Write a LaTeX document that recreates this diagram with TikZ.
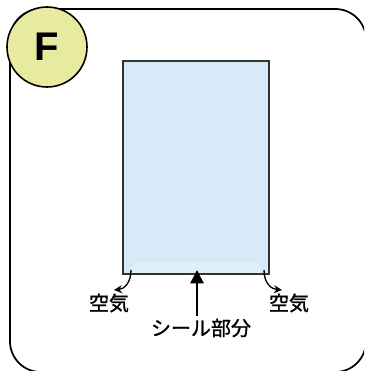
\documentclass[tikz,border=0pt]{standalone}
\usepackage{fontspec}
\setmainfont{Liberation Sans}
\newfontfamily\cjk[FakeBold=1.2]{Noto Sans CJK JP}
\usetikzlibrary{arrows.meta}
\definecolor{badgefill}{HTML}{E6EBA0}
\definecolor{bagfill}{HTML}{D6EAF8}
\definecolor{sealfill}{HTML}{DEEFFA}
\begin{document}
\begin{tikzpicture}[x=0.75pt,y=-0.75pt,
  outerframe/.style={draw=black,line width=1.3pt,rounded corners=23pt},
  badge/.style={circle,draw=black,line width=1.2pt,fill=badgefill,minimum size=60pt,inner sep=0pt,font=\fontsize{30}{30}\selectfont\bfseries},
  bag/.style={draw=black!80,line width=0.9pt,fill=bagfill},
  lbl/.style={font=\cjk\fontsize{15}{17}\selectfont,inner sep=0pt},
  airarrow/.style={-{Stealth[length=6pt,width=6pt]},line width=1pt},
  sealarrow/.style={-{Triangle[length=10pt,width=10pt]},line width=1.1pt}]
\useasboundingbox (0,0) rectangle (364,371);
\begin{scope}
\clip (0,0) rectangle (364,371);
\draw[outerframe] (10,9) -- (366,9) -- (366,372) -- (10,372) -- cycle;
\end{scope}
\node[badge] (badge) at (47,47) {F};
\draw[bag] (123,61) rectangle (269,274);
\fill[sealfill] (133,262) rectangle (260,273.3);
\coordinate (sealtop) at (197,270);
\coordinate (lstart) at (131,270);
\coordinate (rstart) at (264,270);
\node[lbl] (airl) at (109,303) {空気};
\node[lbl] (airr) at (289,303) {空気};
\node[lbl] (seal) at (201,328) {シール部分};
\coordinate (lend) at (114,290);
\coordinate (rend) at (282,290);
\draw[airarrow] (lstart) .. controls (131,283) and (124,289) .. (lend);
\draw[airarrow] (rstart) .. controls (264,283) and (271,289) .. (rend);
\draw[sealarrow] (197,316) -- (sealtop);
\end{tikzpicture}
\end{document}
